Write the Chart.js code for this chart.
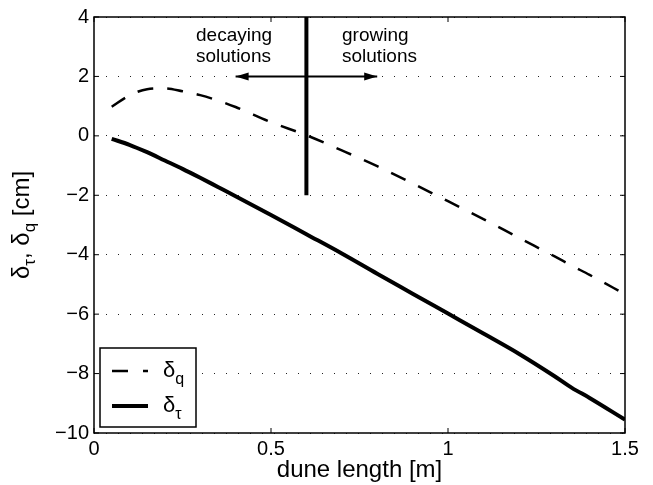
<!DOCTYPE html>
<html>
<head>
<meta charset="utf-8">
<script src="https://cdn.jsdelivr.net/npm/chart.js@4.4.0/dist/chart.umd.min.js"></script>
<style>
  html, body { margin: 0; padding: 0; background: #fff; }
  #wrap { width: 653px; height: 485px; }
</style>
</head>
<body>
<div id="wrap"><canvas id="duneChart" width="653" height="485"></canvas></div>
<script>
/* ==========================
   DATA
========================== */
const duneLength = [0.05, 0.1, 0.15, 0.2, 0.25, 0.3, 0.35, 0.4, 0.5, 0.6, 0.7, 0.8, 0.9, 1.0, 1.1, 1.2, 1.3, 1.35, 1.4, 1.5];
const deltaQ   = [0.98, 1.36, 1.57, 1.6, 1.5, 1.37, 1.19, 0.97, 0.46, 0.02, -0.49, -1.02, -1.6, -2.2, -2.8, -3.43, -4.05, -4.37, -4.68, -5.33];
const deltaTau = [-0.1, -0.3, -0.55, -0.83, -1.11, -1.41, -1.72, -2.03, -2.66, -3.31, -3.96, -4.64, -5.31, -5.98, -6.65, -7.33, -8.08, -8.48, -8.82, -9.55];

const xTicks = [0, 0.5, 1, 1.5];
const yTicks = [-10, -8, -6, -4, -2, 0, 2, 4];

// boundary between decaying and growing solutions
const boundaryX = [0.6, 0.6];
const boundaryY = [-2, 4];
const arrowY = 2;
const arrowStart = 0.6;
const decayEnd = 0.4;
const growEnd = 0.8;

const FONT = '"Liberation Sans", Arial, Helvetica, sans-serif';

const pts = (xs, ys) => xs.map((x, i) => ({x: x, y: ys[i]}));

/* ==========================
   DRAW HELPERS
========================== */
// text with subscripts, parts = [[text, isSub], ...]
function subText(ctx, parts, size, subSize, subDrop){
    let w = 0;
    parts.forEach(p => {
        ctx.font = (p[1] ? subSize : size) + "px " + FONT;
        w += ctx.measureText(p[0]).width;
    });
    return {
        width: w,
        draw(x, y){
            parts.forEach(p => {
                ctx.font = (p[1] ? subSize : size) + "px " + FONT;
                ctx.fillText(p[0], x, y + (p[1] ? subDrop : 0));
                x += ctx.measureText(p[0]).width;
            });
        }
    };
}

const figurePlugin = {
    id: "figure",
    afterDraw(chart){
        const {ctx, chartArea: a, scales: {x, y}} = chart;
        ctx.save();
        ctx.strokeStyle = "#000";
        ctx.fillStyle = "#000";

        // box
        ctx.lineWidth = 1.5;
        ctx.strokeRect(a.left, a.top, a.right - a.left, a.bottom - a.top);

        // inward ticks on all sides
        ctx.lineWidth = 1;
        const tl = 5;
        ctx.beginPath();
        xTicks.forEach(v => {
            const px = x.getPixelForValue(v);
            ctx.moveTo(px, a.bottom); ctx.lineTo(px, a.bottom - tl);
            ctx.moveTo(px, a.top); ctx.lineTo(px, a.top + tl);
        });
        yTicks.forEach(v => {
            const py = y.getPixelForValue(v);
            ctx.moveTo(a.left, py); ctx.lineTo(a.left + tl, py);
            ctx.moveTo(a.right, py); ctx.lineTo(a.right - tl, py);
        });
        ctx.stroke();

        // arrow heads
        [decayEnd, growEnd].forEach(end => {
            const tx = x.getPixelForValue(end);
            const ty = y.getPixelForValue(arrowY);
            const dir = end < arrowStart ? 1 : -1;
            ctx.beginPath();
            ctx.moveTo(tx, ty);
            ctx.lineTo(tx + dir * 13, ty - 4);
            ctx.lineTo(tx + dir * 13, ty + 4);
            ctx.closePath();
            ctx.fill();
        });

        // annotation text
        ctx.font = "19px " + FONT;
        ctx.textBaseline = "alphabetic";
        ctx.textAlign = "left";
        ctx.fillText("decaying", 196, 41);
        ctx.fillText("solutions", 196, 62);
        ctx.fillText("growing", 342, 41);
        ctx.fillText("solutions", 342, 62);

        // legend
        ctx.fillStyle = "#fff";
        ctx.fillRect(100, 348, 96, 79);
        ctx.lineWidth = 1.5;
        ctx.strokeRect(100, 348, 96, 79);
        ctx.fillStyle = "#000";
        ctx.lineWidth = 2.5;
        ctx.setLineDash([16, 15]);
        ctx.beginPath(); ctx.moveTo(112, 371); ctx.lineTo(148, 371); ctx.stroke();
        ctx.setLineDash([]);
        ctx.lineWidth = 4;
        ctx.beginPath(); ctx.moveTo(112, 406); ctx.lineTo(148, 406); ctx.stroke();
        subText(ctx, [["\u03b4", false], ["q", true]], 22, 16, 7).draw(163, 377);
        subText(ctx, [["\u03b4", false], ["\u03c4", true]], 22, 16, 7).draw(163, 412);

        // x title
        ctx.font = "24px " + FONT;
        ctx.textAlign = "center";
        ctx.fillText("dune length [m]", (a.left + a.right) / 2, 477);

        // y title
        ctx.textAlign = "left";
        ctx.translate(29, (a.top + a.bottom) / 2);
        ctx.rotate(-Math.PI / 2);
        const yt = subText(ctx, [["\u03b4", false], ["\u03c4", true], [", \u03b4", false], ["q", true], [" [cm]", false]], 24, 17, 6);
        yt.draw(-yt.width / 2, 0);

        ctx.restore();
    }
};

/* ==========================
   CHART
========================== */
const ctx = document.getElementById("duneChart").getContext("2d");
new Chart(ctx, {
    type: "scatter",
    data: {
        datasets: [
            {
                label: "\u03b4q",
                data: pts(duneLength, deltaQ),
                showLine: true,
                cubicInterpolationMode: "monotone",
                borderColor: "#000",
                borderWidth: 2.5,
                borderDash: [16, 14],
                pointRadius: 0,
                fill: false
            },
            {
                label: "\u03b4\u03c4",
                data: pts(duneLength, deltaTau),
                showLine: true,
                cubicInterpolationMode: "monotone",
                borderColor: "#000",
                borderWidth: 4,
                pointRadius: 0,
                fill: false
            },
            {
                label: "boundary",
                data: pts(boundaryX, boundaryY),
                showLine: true,
                borderColor: "#000",
                borderWidth: 4,
                borderCapStyle: "butt",
                pointRadius: 0
            },
            {
                label: "decaying",
                data: pts([arrowStart, decayEnd], [arrowY, arrowY]),
                showLine: true,
                borderColor: "#000",
                borderWidth: 2,
                pointRadius: 0
            },
            {
                label: "growing",
                data: pts([arrowStart, growEnd], [arrowY, arrowY]),
                showLine: true,
                borderColor: "#000",
                borderWidth: 2,
                pointRadius: 0
            }
        ]
    },
    options: {
        responsive: false,
        animation: false,
        layout: { padding: { left: 0, right: 28, top: 14, bottom: 0 } },
        plugins: { legend: { display: false }, tooltip: { enabled: false } },
        scales: {
            x: {
                type: "linear",
                min: 0,
                max: 1.5,
                afterBuildTicks: s => { s.ticks = xTicks.map(v => ({value: v})); },
                afterFit: s => { s.height = 52; },
                grid: { display: false, drawTicks: false, tickLength: 0 },
                border: { display: false },
                ticks: {
                    color: "#000",
                    font: { family: FONT, size: 20 },
                    padding: 4,
                    maxRotation: 0,
                    callback: v => String(v)
                }
            },
            y: {
                type: "linear",
                min: -10,
                max: 4,
                afterBuildTicks: s => { s.ticks = yTicks.map(v => ({value: v})); },
                afterFit: s => { s.width = 94; },
                grid: { color: "#222", lineWidth: 1, drawTicks: false, tickLength: 0 },
                border: { display: false, dash: [1, 11] },
                ticks: {
                    color: "#000",
                    font: { family: FONT, size: 20 },
                    padding: 5,
                    callback: v => String(v).replace("-", "\u2212")
                }
            }
        }
    },
    plugins: [figurePlugin]
});
</script>
</body>
</html>
